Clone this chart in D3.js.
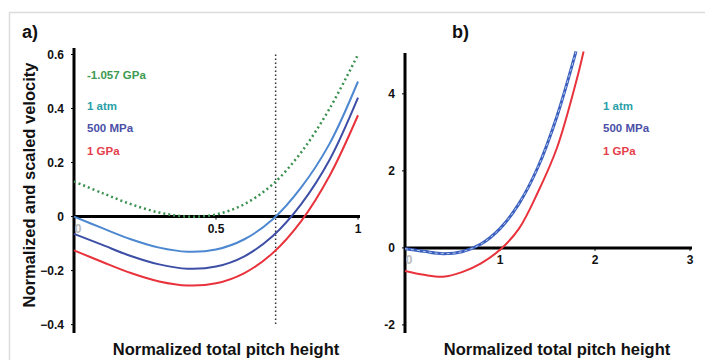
<!DOCTYPE html>
<html>
<head>
<meta charset="utf-8">
<script src="https://cdn.jsdelivr.net/npm/d3@7"></script>
<style>
  body { margin: 0; background: #fff; }
  svg text { font-family: Arial, "Liberation Sans", sans-serif; font-weight: bold; }
</style>
</head>
<body>
<div id="chart"></div>
<script>
// panel a: normalized total pitch height vs normalized and scaled velocity
const xA = [0, 0.1, 0.2, 0.3, 0.4, 0.5, 0.6, 0.7, 0.8, 0.9, 1.0];
const atmA = [0, -0.043, -0.084, -0.115, -0.13, -0.122, -0.084, -0.01, 0.108, 0.27, 0.5];
const mpaA = [-0.064, -0.105, -0.146, -0.177, -0.193, -0.185, -0.147, -0.072, 0.046, 0.21, 0.44];
const gpaA = [-0.125, -0.168, -0.209, -0.24, -0.255, -0.247, -0.209, -0.135, -0.017, 0.151, 0.375];
const negA = [0.13, 0.087, 0.046, 0.015, 0.0, 0.008, 0.046, 0.12, 0.238, 0.4, 0.6];
const markerA = 0.71;
const yTicksA = [0.6, 0.4, 0.2, 0, -0.2, -0.4];
const xTicksA = [0, 0.5, 1];

// panel b: same curves over a wider range
const xB = [0, 0.2, 0.4, 0.6, 0.8, 1.0, 1.2, 1.4, 1.6, 1.8];
const atmB = [-0.02, -0.09, -0.15, -0.1, 0.1, 0.5, 1.15, 2.1, 3.42, 5.1];
const mpaB = [-0.02, -0.09, -0.15, -0.1, 0.1, 0.5, 1.15, 2.1, 3.42, 5.1];
const xBred = [0, 0.2, 0.4, 0.6, 0.8, 1.0, 1.2, 1.4, 1.6, 1.8, 1.88];
const gpaB = [-0.6, -0.7, -0.75, -0.63, -0.4, -0.05, 0.5, 1.45, 2.6, 4.3, 5.1];
const yTicksB = [4, 2, 0, -2];
const xTicksB = [0, 1, 2, 3];

const legendA = ["-1.057 GPa", "1 atm", "500 MPa", "1 GPa"];
const legendB = ["1 atm", "500 MPa", "1 GPa"];
const textColor = { "-1.057 GPa": "#3d9a50", "1 atm": "#2a9fa8", "500 MPa": "#4a4fa8", "1 GPa": "#e4404a" };

const W = 705, H = 360;
const svg = d3.select("#chart").append("svg").attr("width", W).attr("height", H);

// light frame round the figure
svg.append("path")
  .attr("d", "M9.5,360 V12.5 H705")
  .attr("fill", "none")
  .attr("stroke", "#dcdcdc")
  .attr("stroke-width", 1.5);

function toPts(xs, ys) {
  return xs.map((x, i) => ({ x: x, y: ys[i] }));
}

function drawAxes(x, y, xTicks, yTicks, yFmt) {
  const g = svg.append("g");
  const x0 = x(0), y0 = y(0);
  // y axis line
  g.append("line")
    .attr("x1", x0).attr("x2", x0)
    .attr("y1", y.range()[1]).attr("y2", y.range()[0])
    .attr("stroke", "#000").attr("stroke-width", 3);
  // x axis line
  g.append("line")
    .attr("x1", x0).attr("x2", x.range()[1] + 2)
    .attr("y1", y0).attr("y2", y0)
    .attr("stroke", "#000").attr("stroke-width", 3);
  // tiny ticks
  g.selectAll(".yt").data(yTicks).enter().append("line")
    .attr("x1", x0 - 3).attr("x2", x0)
    .attr("y1", (d) => y(d)).attr("y2", (d) => y(d))
    .attr("stroke", "#000").attr("stroke-width", 1);
  g.selectAll(".xt").data(xTicks.filter((d) => d !== 0)).enter().append("line")
    .attr("x1", (d) => x(d)).attr("x2", (d) => x(d))
    .attr("y1", y0).attr("y2", y0 + 3)
    .attr("stroke", "#000").attr("stroke-width", 1);
  g.selectAll(".yl").data(yTicks).enter().append("text")
    .attr("x", x0 - 10).attr("y", (d) => y(d))
    .attr("dy", "0.35em")
    .attr("text-anchor", "end")
    .attr("font-size", 12)
    .attr("fill", "#111")
    .text(yFmt);
  g.selectAll(".xl").data(xTicks).enter().append("text")
    .attr("x", (d) => x(d) + (d === 0 ? 4 : 0)).attr("y", y0 + 16)
    .attr("text-anchor", "middle")
    .attr("font-size", 12)
    .attr("fill", (d) => (d === 0 ? "#bbb" : "#111"))
    .text((d) => d);
}

function drawPanelA() {
  const x = d3.scaleLinear().domain([0, 1]).range([74, 358]);
  const y = d3.scaleLinear().domain([-0.431, 0.624]).range([333, 48]);
  const line = d3.line().x((d) => x(d.x)).y((d) => y(d.y)).curve(d3.curveCatmullRom);

  // dotted marker line
  svg.append("line")
    .attr("x1", x(markerA)).attr("x2", x(markerA))
    .attr("y1", y(0.6)).attr("y2", y(-0.4))
    .attr("stroke", "#333").attr("stroke-width", 1.5)
    .attr("stroke-dasharray", "1.5,2.5");

  drawAxes(x, y, xTicksA, yTicksA, (d) => (d === 0 ? "0" : d3.format(".1f")(d)));

  const series = [
    { v: atmA, c: "#4c87d0", dash: null },
    { v: mpaA, c: "#3d4ea6", dash: null },
    { v: gpaA, c: "#e8333d", dash: null },
    { v: negA, c: "#3b9150", dash: "2,3" },
  ];
  svg.append("g").selectAll("path").data(series).enter().append("path")
    .attr("d", (d) => line(toPts(xA, d.v)))
    .attr("fill", "none")
    .attr("stroke", (d) => d.c)
    .attr("stroke-width", (d) => (d.dash ? 2.5 : 2))
    .attr("stroke-dasharray", (d) => d.dash);

  svg.append("g").selectAll("text").data(legendA).enter().append("text")
    .attr("x", 87).attr("y", (d, i) => [75, 106, 128, 151][i])
    .attr("dy", "0.35em")
    .attr("font-size", 11.5)
    .attr("fill", (d) => textColor[d])
    .text((d) => d);

  svg.append("text").attr("x", 22).attr("y", 38).attr("font-size", 18).attr("fill", "#111").text("a)");
  svg.append("text")
    .attr("transform", "translate(35,185) rotate(-90)")
    .attr("text-anchor", "middle")
    .attr("font-size", 16.5)
    .attr("fill", "#111")
    .text("Normalized and scaled velocity");
  svg.append("text")
    .attr("x", 226).attr("y", 355)
    .attr("text-anchor", "middle")
    .attr("font-size", 16.5)
    .attr("fill", "#111")
    .text("Normalized total pitch height");
}

function drawPanelB() {
  const x = d3.scaleLinear().domain([0, 3]).range([405, 690]);
  const y = d3.scaleLinear().domain([-2.21, 5.06]).range([333, 53]);
  const line = d3.line().x((d) => x(d.x)).y((d) => y(d.y)).curve(d3.curveCatmullRom);

  drawAxes(x, y, xTicksB, yTicksB, (d) => d);

  svg.append("path")
    .attr("d", line(toPts(xBred, gpaB)))
    .attr("fill", "none").attr("stroke", "#e8333d").attr("stroke-width", 2);
  svg.append("path")
    .attr("d", line(toPts(xB, mpaB)))
    .attr("fill", "none").attr("stroke", "#3a5fbf").attr("stroke-width", 3);
  svg.append("path")
    .attr("d", line(toPts(xB, atmB)))
    .attr("fill", "none").attr("stroke", "#b9cdea").attr("stroke-width", 1)
    .attr("stroke-dasharray", "3,3");

  svg.append("g").selectAll("text").data(legendB).enter().append("text")
    .attr("x", 603).attr("y", (d, i) => [106, 128, 151][i])
    .attr("dy", "0.35em")
    .attr("font-size", 11.5)
    .attr("fill", (d) => textColor[d])
    .text((d) => d);

  svg.append("text").attr("x", 452).attr("y", 38).attr("font-size", 18).attr("fill", "#111").text("b)");
  svg.append("text")
    .attr("x", 557).attr("y", 355)
    .attr("text-anchor", "middle")
    .attr("font-size", 16.5)
    .attr("fill", "#111")
    .text("Normalized total pitch height");
}

drawPanelA();
drawPanelB();
</script>
</body>
</html>
